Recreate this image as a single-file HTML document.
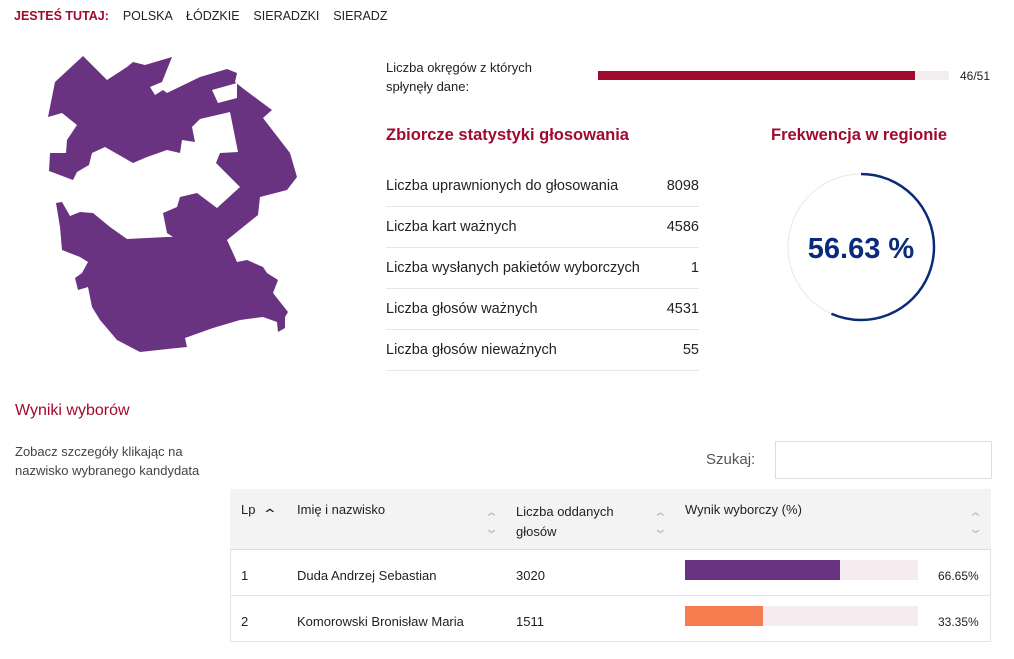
<!DOCTYPE html>
<html><head><meta charset="utf-8"><style>
*{margin:0;padding:0;box-sizing:border-box}
body{width:1014px;height:659px;background:#fff;font-family:"Liberation Sans",sans-serif;color:#222;position:relative;overflow:hidden;font-size:13px}
.a{position:absolute;white-space:nowrap}
.row{position:absolute;left:386px;width:313px;height:41px;border-bottom:1px solid #e6e6e6;font-size:14.5px}
.row span{position:absolute;top:12px}
.row b{position:absolute;right:0;top:12px;font-weight:normal}
.srt{position:absolute;color:#bbb;font-size:13px;line-height:11px;transform:scaleX(1.4)}
</style></head><body>
<div class="a" style="left:14px;top:9px;font-size:12.5px"><b style="color:#a00a2e">JESTEŚ TUTAJ:</b>&nbsp;&nbsp;&nbsp; POLSKA &nbsp;&nbsp;&nbsp;ŁÓDZKIE &nbsp;&nbsp;&nbsp;SIERADZKI &nbsp;&nbsp;&nbsp;SIERADZ</div>
<svg class="a" style="left:0;top:0" width="320" height="370">
<polygon fill="#693381" points="83,56 55,82 48,117 62,113 77,125 67,140 66,153 50,153 49,171 73,180 77,172 89,165 92,153 105,147 133,163 147,157 167,150 180,153 182,140 195,142 192,127 200,119 230,112 238,152 220,153 216,163 240,187 217,208 197,193 180,197 177,207 163,213 167,233 173,237 167,237 127,239 110,227 93,213 80,212 70,216 62,202 56,203 60,227 62,250 80,257 88,262 82,273 75,278 78,290 88,287 92,307 100,320 117,340 140,352 177,348 187,347 185,338 213,328 240,320 263,317 277,322 278,332 285,328 285,317 288,312 273,293 278,280 267,273 263,267 247,260 237,262 233,253 227,240 258,215 260,197 287,190 297,177 290,153 263,118 272,110 245,90 235,82 237,73 227,69 200,77 167,93 163,90 155,95 150,87 162,82 172,57 145,65 133,62 127,67 107,80"/>
<polygon fill="#fff" points="212,90 237,83 237,98 218,103"/>
</svg>
<div class="a" style="left:386px;top:58px;line-height:19px;font-size:13px">Liczba okręgów z których<br>spłynęły dane:</div>
<div class="a" style="left:598px;top:71px;width:351px;height:9px;background:#f3eef0"><div style="width:317px;height:9px;background:#a00a2e"></div></div>
<div class="a" style="left:960px;top:69px;font-size:12px">46/51</div>
<div class="a" style="left:386px;top:126px;font-size:16.5px;font-weight:bold;color:#a00a2e">Zbiorcze statystyki głosowania</div>
<div class="a" style="left:771px;top:126px;font-size:16.5px;font-weight:bold;color:#a00a2e">Frekwencja w regionie</div>
<div class="row" style="top:166px"><span>Liczba uprawnionych do głosowania</span><b>8098</b></div>
<div class="row" style="top:207px"><span>Liczba kart ważnych</span><b>4586</b></div>
<div class="row" style="top:248px"><span>Liczba wysłanych pakietów wyborczych</span><b>1</b></div>
<div class="row" style="top:289px"><span>Liczba głosów ważnych</span><b>4531</b></div>
<div class="row" style="top:330px"><span>Liczba głosów nieważnych</span><b>55</b></div>
<svg class="a" style="left:786px;top:172px" width="150" height="150">
<circle cx="75" cy="75" r="73" fill="none" stroke="#e8e8e8" stroke-width="1"/>
<circle cx="75" cy="75" r="73" fill="none" stroke="#0b2a7a" stroke-width="2.5" stroke-dasharray="259.7 459" transform="rotate(-90 75 75)"/>
<text x="75" y="86" text-anchor="middle" font-family="Liberation Sans" font-size="29" font-weight="bold" fill="#0b2a7a">56.63 %</text>
</svg>
<div class="a" style="left:15px;top:402px;font-size:16px;color:#a00a2e">Wyniki wyborów</div>
<div class="a" style="left:15px;top:442px;line-height:19px;font-size:13px;color:#444">Zobacz szczegóły klikając na<br>nazwisko wybranego kandydata</div>
<div class="a" style="left:706px;top:451px;font-size:15px;color:#555">Szukaj:</div>
<div class="a" style="left:775px;top:441px;width:217px;height:38px;border:1px solid #ddd"></div>
<div class="a" style="left:230px;top:489px;width:761px;height:61px;background:#f3f3f3;border-bottom:1px solid #ddd"></div>
<div class="a" style="left:241px;top:502px;font-size:13px">Lp</div>
<div class="a" style="left:264px;top:506px;font-size:14px;transform:scaleX(1.4)">&#8963;</div>
<div class="a" style="left:297px;top:502px;font-size:13px">Imię i nazwisko</div>
<div class="a" style="left:516px;top:502px;line-height:20px;font-size:13px">Liczba oddanych<br>głosów</div>
<div class="a" style="left:685px;top:502px;font-size:13px">Wynik wyborczy (%)</div>
<div class="srt" style="left:486px;top:512px">&#8963;<br>&#8964;</div>
<div class="srt" style="left:655px;top:512px">&#8963;<br>&#8964;</div>
<div class="srt" style="left:970px;top:512px">&#8963;<br>&#8964;</div>
<div class="a" style="left:230px;top:550px;width:761px;height:92px;border:1px solid #e3e3e3;border-top:none"></div>
<div class="a" style="left:230px;top:595px;width:761px;height:1px;background:#e3e3e3"></div>
<div class="a" style="left:241px;top:568px">1</div>
<div class="a" style="left:297px;top:568px">Duda Andrzej Sebastian</div>
<div class="a" style="left:516px;top:568px">3020</div>
<div class="a" style="left:685px;top:560px;width:233px;height:20px;background:#f6ecf0"><div style="width:155px;height:20px;background:#693381"></div></div>
<div class="a" style="left:938px;top:569px;font-size:12px">66.65%</div>
<div class="a" style="left:241px;top:614px">2</div>
<div class="a" style="left:297px;top:614px">Komorowski Bronisław Maria</div>
<div class="a" style="left:516px;top:614px">1511</div>
<div class="a" style="left:685px;top:606px;width:233px;height:20px;background:#f6ecf0"><div style="width:78px;height:20px;background:#f47c4e"></div></div>
<div class="a" style="left:938px;top:615px;font-size:12px">33.35%</div>
</body></html>
